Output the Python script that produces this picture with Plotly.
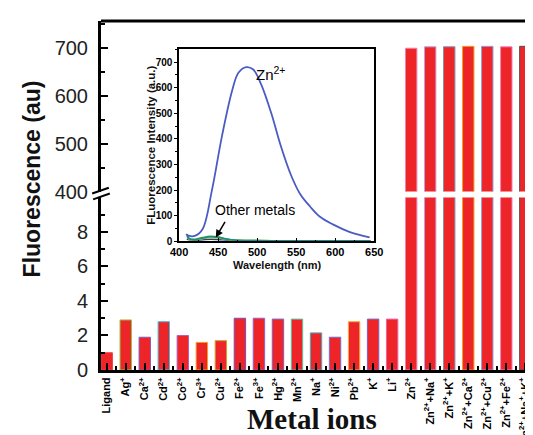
import plotly.graph_objects as go

# ---------------- data ----------------
categories = ["Ligand", "Ag<sup>+</sup>", "Ca<sup>2+</sup>", "Cd<sup>2+</sup>", "Co<sup>2+</sup>",
              "Cr<sup>3+</sup>", "Cu<sup>2+</sup>", "Fe<sup>2+</sup>", "Fe<sup>3+</sup>", "Hg<sup>2+</sup>",
              "Mn<sup>2+</sup>", "Na<sup>+</sup>", "Ni<sup>2+</sup>", "Pb<sup>2+</sup>", "K<sup>+</sup>",
              "Li<sup>+</sup>", "Zn<sup>2+</sup>", "Zn<sup>2+</sup>+Na<sup>+</sup>", "Zn<sup>2+</sup>+K<sup>+</sup>",
              "Zn<sup>2+</sup>+Ca<sup>2+</sup>", "Zn<sup>2+</sup>+Cu<sup>2+</sup>", "Zn<sup>2+</sup>+Fe<sup>2+</sup>",
              "Zn<sup>2+</sup>+Na<sup>+</sup>+K<sup>+</sup>"]
fluorescence = [1.0, 2.9, 1.9, 2.8, 2.0, 1.6, 1.7, 3.0, 3.0, 2.95, 2.95, 2.15, 1.9, 2.8, 2.95, 2.95,
                700, 703, 703, 704, 704, 703, 704]
outline_colors = ["#f04040", "#8dc63f", "#8060c0", "#40c0e0", "#b060c0", "#f0a020", "#d0a030",
                  "#7050c0", "#9060d0", "#8060c0", "#60c0a0", "#40b0c0", "#7070d0", "#f0b040",
                  "#8060c0", "#f060a0", "#f080b0", "#c0a0e0", "#8090b0", "#f0a020", "#90a0e0",
                  "#f080c0", "#505050"]

zn_wavelength = [409, 412, 420, 430, 442, 455, 468, 476, 486, 495, 505, 518, 530, 543, 555, 568,
                 580, 597, 618, 644]
zn_intensity = [28, 22, 21, 47, 198, 412, 589, 658, 680, 671, 614, 501, 375, 261, 185, 135,
                97, 66, 37, 15]

other_wavelength = [410, 413, 420, 430, 440, 450, 460, 470, 490, 520, 560, 600, 645]
other_green = [28, 12, 8, 15, 20, 17, 10, 5, 3, 2, 2, 2, 2]
other_teal = [22, 10, 6, 12, 18, 16, 9, 5, 3, 2, 2, 2, 2]
other_yellow = [18, 8, 6, 10, 14, 12, 8, 4, 3, 2, 2, 2, 2]
other_navy = [10, 6, 4, 6, 8, 7, 5, 3, 2, 2, 2, 2, 2]

x_idx = list(range(len(categories)))

# ---------------- figure ----------------
W, H = 533, 435
L, R, T, B = 93, 0, 13, 64
PW, PH = W - L - R, H - T - B


def px(xp):
    return (xp - L) / PW


def py(yp):
    return (H - B - yp) / PH


fig = go.Figure()

bar_kw = dict(x=x_idx, y=fluorescence, width=0.6,
              marker=dict(color="#ee2528", line=dict(color=outline_colors, width=1)),
              showlegend=False)
fig.add_trace(go.Bar(xaxis="x", yaxis="y", **bar_kw))
fig.add_trace(go.Bar(xaxis="x", yaxis="y2", **bar_kw))

# inset curves
for vals, col in [(other_navy, "#283c8c"), (other_yellow, "#c8c832"),
                  (other_green, "#3c9a3c"), (other_teal, "#1a8c8c")]:
    fig.add_trace(go.Scatter(x=other_wavelength, y=vals, mode="lines", xaxis="x3", yaxis="y3",
                             line=dict(color=col, width=1.5, shape="spline"), showlegend=False))
fig.add_trace(go.Scatter(x=zn_wavelength, y=zn_intensity, mode="lines", xaxis="x3", yaxis="y3",
                         line=dict(color="#4a5cc4", width=1.8, shape="spline"), showlegend=False))

sans = "Liberation Sans, Arial, sans-serif"
lower_dom = [0, py(194)]
upper_dom = [py(188), 1]

fig.update_layout(
    width=W, height=H, margin=dict(l=L, r=R, t=T, b=B),
    paper_bgcolor="white", plot_bgcolor="white", barmode="overlay",
    xaxis=dict(domain=[0, 1], range=[-0.3, 22.35], anchor="y",
               tickmode="array", tickvals=x_idx, ticktext=categories, tickangle=-90,
               tickfont=dict(family=sans, size=11, color="black", weight="bold"),
               showline=True, linewidth=3, linecolor="black",
               ticks="inside", ticklen=7, tickwidth=2, tickcolor="black",
               minor=dict(tickvals=[i + 0.5 for i in x_idx], ticks="inside", ticklen=4,
                          tickwidth=2, tickcolor="black"),
               showgrid=False, zeroline=False),
    yaxis=dict(domain=lower_dom, range=[0, 10], anchor="x",
               tickmode="array", tickvals=[0, 2, 4, 6, 8],
               tickfont=dict(family=sans, size=20, color="#222"),
               showline=True, linewidth=3, linecolor="black",
               ticks="inside", ticklen=7, tickwidth=2, tickcolor="black",
               minor=dict(tickvals=[1, 3, 5, 7, 9], ticks="inside", ticklen=4,
                          tickwidth=2, tickcolor="black"),
               showgrid=False, zeroline=False, ticklabelstandoff=6),
    yaxis2=dict(domain=upper_dom, range=[400, 757], anchor="x",
                tickmode="array", tickvals=[400, 500, 600, 700],
                tickfont=dict(family=sans, size=20, color="#222"),
                showline=True, linewidth=3, linecolor="black",
                ticks="inside", ticklen=7, tickwidth=2, tickcolor="black",
                minor=dict(tickvals=[450, 550, 650, 750], ticks="inside", ticklen=4,
                           tickwidth=2, tickcolor="black"),
                showgrid=False, zeroline=False, ticklabelstandoff=6),
    xaxis3=dict(domain=[px(172.7), px(372)], range=[400, 650], anchor="y3",
                tickmode="array", tickvals=[400, 450, 500, 550, 600, 650],
                tickfont=dict(family=sans, size=11, color="black", weight="bold"),
                showline=True, mirror=True, linewidth=1.5, linecolor="black",
                ticks="inside", ticklen=4, tickwidth=1, tickcolor="black",
                minor=dict(dtick=25, tick0=0, ticks="inside", ticklen=2, tickcolor="black"),
                showgrid=False, zeroline=False),
    yaxis3=dict(domain=[py(239), py(42)], range=[0, 750], anchor="x3",
                tickmode="array", tickvals=[0, 100, 200, 300, 400, 500, 600, 700],
                tickfont=dict(family=sans, size=10, color="black", weight="bold"),
                showline=True, mirror=True, linewidth=1.5, linecolor="black",
                ticks="outside", ticklen=3, tickwidth=1, tickcolor="black",
                minor=dict(dtick=50, tick0=0, ticks="outside", ticklen=2, tickcolor="black"),
                showgrid=False, zeroline=False),
    shapes=[
        dict(type="line", xref="paper", yref="paper", x0=0, x1=1, y0=1, y1=1,
             line=dict(color="black", width=3)),
        dict(type="line", xref="paper", yref="paper", x0=px(84), x1=px(101), y0=py(190), y1=py(184),
             line=dict(color="black", width=2)),
        dict(type="line", xref="paper", yref="paper", x0=px(85), x1=px(102), y0=py(196), y1=py(190),
             line=dict(color="black", width=2)),
    ],
    annotations=[
        dict(text="<b>Fluorescence (au)</b>", xref="paper", yref="paper", x=px(22), y=py(175),
             textangle=-90, showarrow=False, xanchor="center", yanchor="middle",
             font=dict(family=sans, size=23, color="#111")),
        dict(text="<b>Metal ions</b>", xref="paper", yref="paper", x=px(308), y=py(421),
             showarrow=False, xanchor="center", yanchor="middle",
             font=dict(family="Liberation Serif, Times New Roman, serif", size=29, color="#111")),
        dict(text="<b>FLuorescence Intensity (a.u.)</b>", xref="paper", yref="paper",
             x=px(144), y=py(140), textangle=-90, showarrow=False,
             xanchor="center", yanchor="middle", font=dict(family=sans, size=11.5, color="#111")),
        dict(text="<b>Wavelength (nm)</b>", xref="paper", yref="paper", x=px(273), y=py(263),
             showarrow=False, xanchor="center", yanchor="middle",
             font=dict(family=sans, size=11, color="#111")),
        dict(text="Zn<sup>2+</sup>", xref="x3", yref="y3", x=518, y=655, showarrow=False,
             font=dict(family=sans, size=15, color="black")),
        dict(text="Other metals", xref="x3", yref="y3", x=497, y=121, showarrow=False,
             font=dict(family=sans, size=14, color="black")),
        dict(text="", xref="x3", yref="y3", x=447, y=15, ax=460, ay=82,
             axref="x3", ayref="y3", showarrow=True, arrowhead=2, arrowsize=1,
             arrowwidth=1.5, arrowcolor="black"),
    ],
)

fig.write_html("out.html")
